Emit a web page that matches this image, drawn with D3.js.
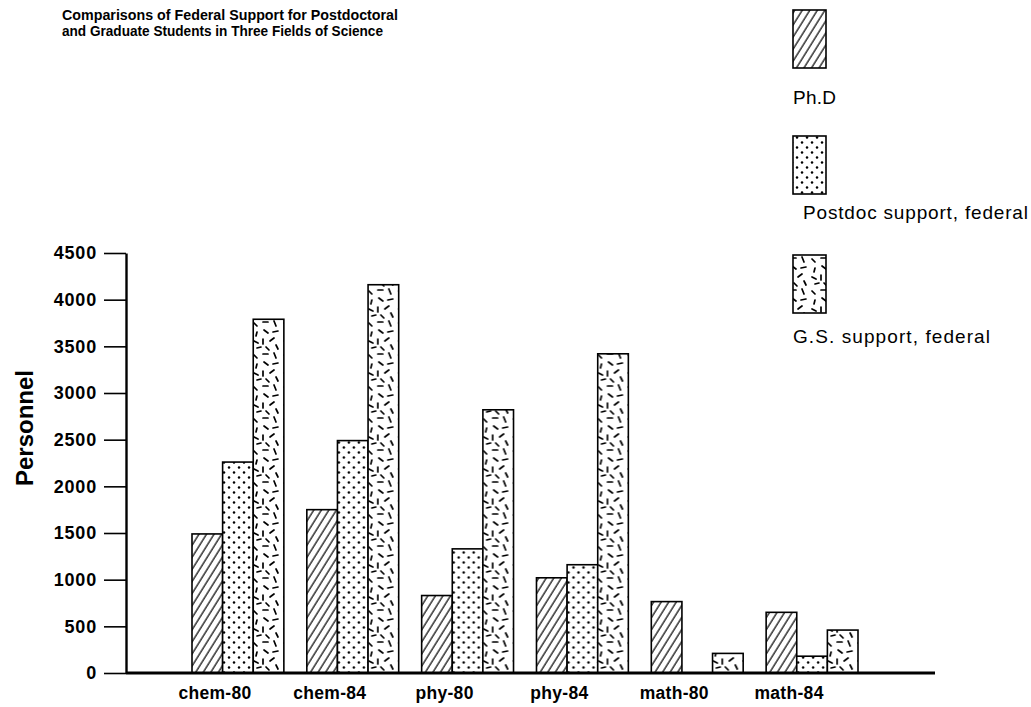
<!DOCTYPE html>
<html>
<head>
<meta charset="utf-8">
<script src="https://cdn.jsdelivr.net/npm/d3@7"></script>
<style>
  html, body { margin: 0; padding: 0; background: #fff; }
  svg { display: block; }
  text { font-family: "Liberation Sans", Arial, Helvetica, sans-serif; fill: #000; }
</style>
</head>
<body>
<svg id="chart" width="1031" height="707"></svg>
<script>
// ---------------- data ----------------
const categories = ["chem-80", "chem-84", "phy-80", "phy-84", "math-80", "math-84"];
const seriesNames = ["Ph.D", "Postdoc support, federal", "G.S. support, federal"];
const phdValues     = [1490, 1750, 830, 1020, 765, 650];
const postdocValues = [2260, 2490, 1330, 1160, 0, 180];
const gsValues      = [3790, 4160, 2820, 3420, 210, 460];
const yTicks = [0, 500, 1000, 1500, 2000, 2500, 3000, 3500, 4000, 4500];
const titleLines = ["Comparisons of Federal Support for Postdoctoral",
                    "and Graduate Students in Three Fields of Science"];
const yLabel = "Personnel";

const seriesValues = [phdValues, postdocValues, gsValues];
const patternIds = ["pat-hatch", "pat-dots", "pat-dash"];

// ---------------- svg ----------------
const svg = d3.select("#chart");
const defs = svg.append("defs");

// hatch pattern
const hatch = defs.append("pattern")
  .attr("id", "pat-hatch").attr("patternUnits", "userSpaceOnUse")
  .attr("width", 6.4).attr("height", 10)
  .attr("patternTransform", "rotate(32)");
hatch.append("rect").attr("width", 6.4).attr("height", 10).attr("fill", "#fff");
hatch.append("line").attr("x1", 1).attr("y1", 0).attr("x2", 1).attr("y2", 10)
  .attr("stroke", "#000").attr("stroke-width", 1.2);

// dots pattern
const dots = defs.append("pattern")
  .attr("id", "pat-dots").attr("patternUnits", "userSpaceOnUse")
  .attr("width", 10).attr("height", 10);
dots.append("rect").attr("width", 10).attr("height", 10).attr("fill", "#fff");
[[2, 2.5], [7, 7.5]].forEach(([cx, cy]) =>
  dots.append("circle").attr("cx", cx).attr("cy", cy).attr("r", 1.25).attr("fill", "#000"));

// dash pattern (fixed tile of short strokes)
const dashTile = [
  [2, 3, 5, 6], [11, 2, 16, 2], [22, 1, 24, 6],
  [5, 12, 4, 16], [12, 10, 16, 13], [21, 12, 26, 11],
  [2, 21, 6, 23], [11, 19, 11, 24], [18, 21, 22, 18],
  [5, 28, 9, 27], [14, 27, 17, 30], [24, 25, 26, 29]
];
const dash = defs.append("pattern")
  .attr("id", "pat-dash").attr("patternUnits", "userSpaceOnUse")
  .attr("width", 30).attr("height", 32);
dash.append("rect").attr("width", 30).attr("height", 32).attr("fill", "#fff");
dashTile.forEach(([x1, y1, x2, y2]) =>
  dash.append("line").attr("x1", x1).attr("y1", y1).attr("x2", x2).attr("y2", y2)
    .attr("stroke", "#000").attr("stroke-width", 1.7).attr("stroke-linecap", "round"));

// ---------------- scales ----------------
const x0 = d3.scaleBand().domain(categories).range([192, 858]).paddingInner(0.2).paddingOuter(0);
const x1 = d3.scaleBand().domain(d3.range(seriesNames.length)).range([0, x0.bandwidth()]).padding(0);
const y = d3.scaleLinear().domain([0, 4500]).range([673, 253]);

// ---------------- title ----------------
svg.append("g").selectAll("text").data(titleLines).join("text")
  .attr("x", 62).attr("y", (d, i) => 19.5 + i * 16.8)
  .attr("font-size", 15.5).attr("font-weight", "bold")
  .attr("textLength", (d, i) => [336, 321][i]).attr("lengthAdjust", "spacingAndGlyphs")
  .text(d => d);

// ---------------- bars ----------------
const groups = svg.append("g").selectAll("g").data(categories).join("g")
  .attr("transform", d => `translate(${x0(d)},0)`);
groups.selectAll("rect")
  .data((c, ci) => seriesValues.map((vals, si) => ({ si, v: vals[ci] })).filter(d => d.v > 0))
  .join("rect")
  .attr("x", d => x1(d.si))
  .attr("y", d => y(d.v))
  .attr("width", x1.bandwidth())
  .attr("height", d => y(0) - y(d.v))
  .attr("fill", d => `url(#${patternIds[d.si]})`)
  .attr("stroke", "#000").attr("stroke-width", 1.6);

// ---------------- y axis ----------------
const yAxis = svg.append("g").attr("transform", "translate(126,0)")
  .call(d3.axisLeft(y).tickValues(yTicks).tickSize(22).tickSizeOuter(0).tickPadding(7).tickFormat(d3.format("d")));
yAxis.select(".domain").attr("stroke", "#000").attr("stroke-width", 2.4);
yAxis.selectAll(".tick line").attr("stroke", "#000").attr("stroke-width", 1.6);
yAxis.selectAll(".tick text").attr("font-size", 18).attr("font-weight", "bold")
  .attr("font-family", "'Liberation Sans', Arial, sans-serif").attr("fill", "#000")
  .attr("letter-spacing", 0.8);

// baseline
svg.append("line").attr("x1", 126).attr("x2", 935).attr("y1", y(0)).attr("y2", y(0))
  .attr("stroke", "#000").attr("stroke-width", 2.8);

// ---------------- x axis labels ----------------
const xAxis = svg.append("g").attr("transform", `translate(0,${y(0)})`)
  .call(d3.axisBottom(x0).tickSize(0).tickPadding(14));
xAxis.select(".domain").remove();
xAxis.selectAll(".tick text").attr("dx", -23).attr("font-size", 17.5).attr("font-weight", "bold")
  .attr("font-family", "'Liberation Sans', Arial, sans-serif").attr("fill", "#000")
  .attr("letter-spacing", 0.3);

// y label
svg.append("text")
  .attr("transform", "translate(33,428) rotate(-90)")
  .attr("text-anchor", "middle").attr("font-size", 24).attr("font-weight", "bold")
  .text(yLabel);

// ---------------- legend ----------------
const legendY = [10, 136, 255];
const legendTextY = [104, 219, 343];
const legendTextX = [793, 803, 793];
const legendTextW = [43, 225, 197];
const legend = svg.append("g").selectAll("g").data(seriesNames).join("g");
legend.append("rect")
  .attr("x", 793).attr("y", (d, i) => legendY[i])
  .attr("width", 33).attr("height", 58)
  .attr("fill", (d, i) => `url(#${patternIds[i]})`)
  .attr("stroke", "#000").attr("stroke-width", 1.6);
legend.append("text")
  .attr("x", (d, i) => legendTextX[i]).attr("y", (d, i) => legendTextY[i])
  .attr("font-size", 19)
  .attr("textLength", (d, i) => legendTextW[i]).attr("lengthAdjust", "spacing")
  .text(d => d);
</script>
</body>
</html>
